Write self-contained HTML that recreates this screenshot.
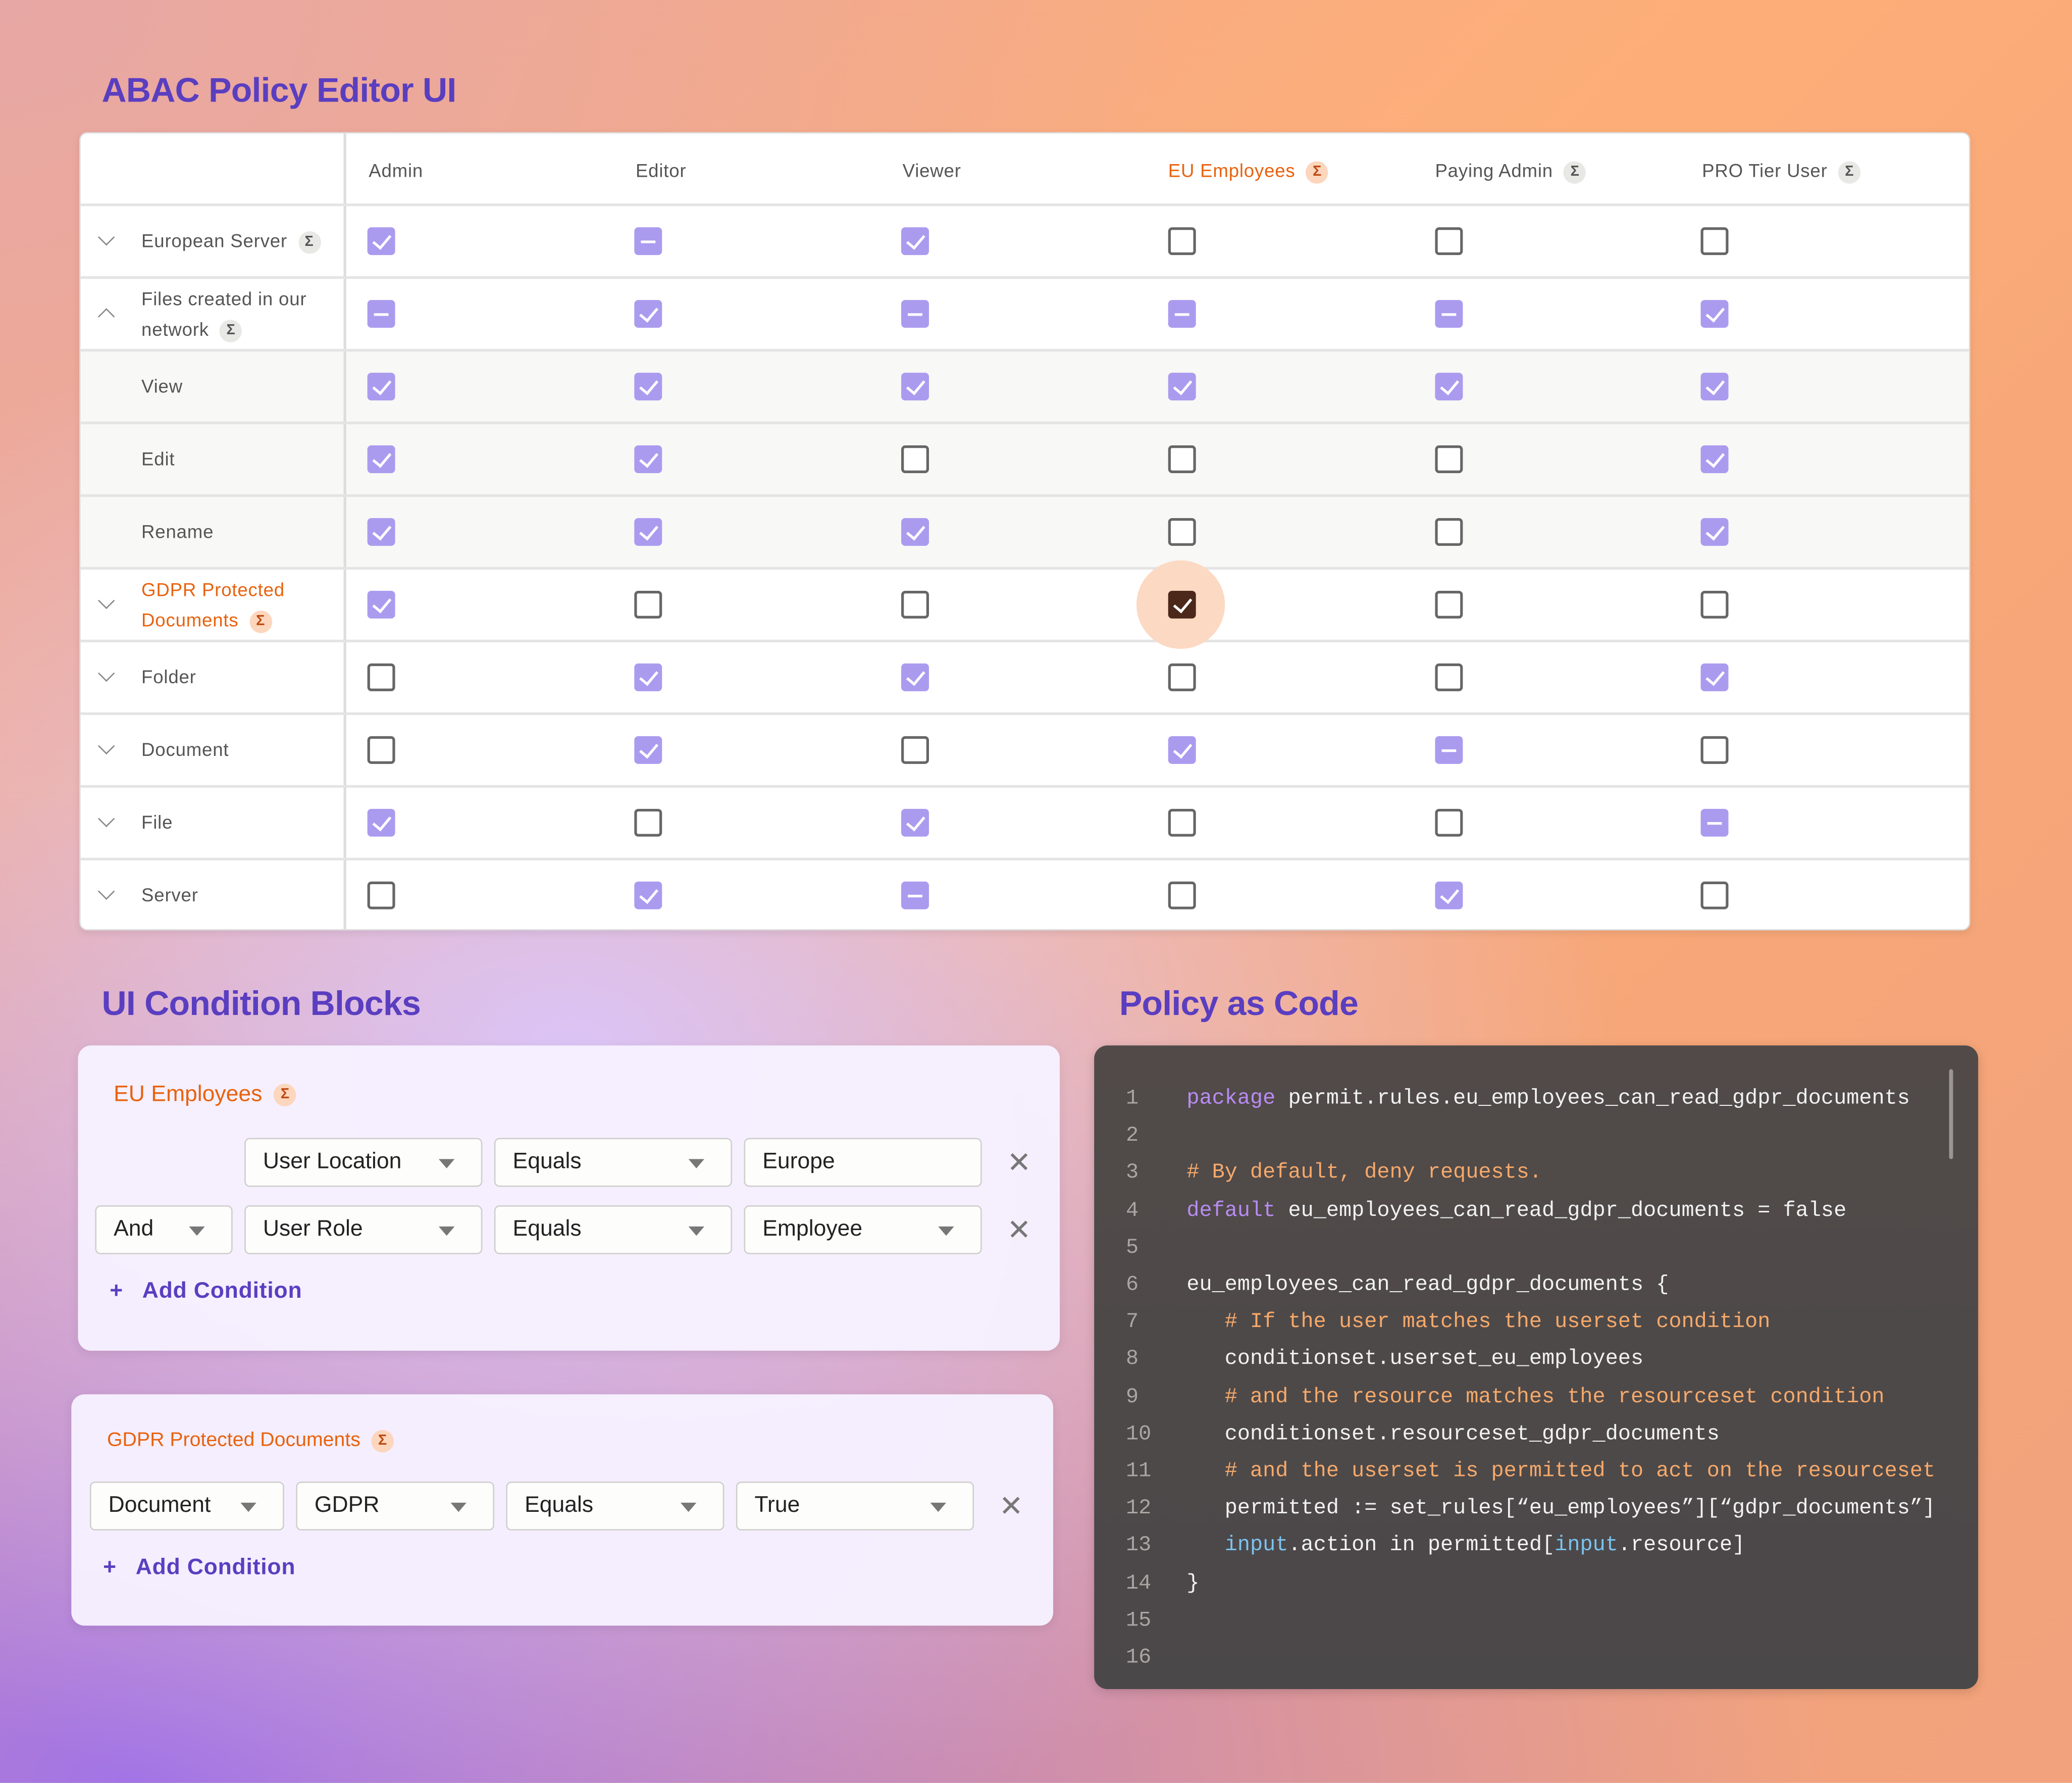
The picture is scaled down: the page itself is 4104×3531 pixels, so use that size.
<!DOCTYPE html>
<html><head><meta charset="utf-8"><style>
*{margin:0;padding:0;box-sizing:border-box}
html,body{width:4104px;height:3531px;overflow:hidden}
#w{position:absolute;left:0;top:0;width:1568px;height:1349px;transform:scale(2.61735);transform-origin:0 0;font-family:"Liberation Sans",sans-serif;
background:
radial-gradient(ellipse 800px 600px at 430px 800px,rgba(218,198,252,0.95),rgba(218,198,252,0) 100%),
radial-gradient(ellipse 1300px 750px at 100px 1349px,#a274e6,rgba(162,116,230,0) 100%),
radial-gradient(ellipse 900px 700px at 0px 0px,#e7a7a4,rgba(231,167,164,0) 100%),
linear-gradient(135deg,#f2a98e 0%,#fdae78 45%,#f6a678 70%,#f2a27c 100%);}
.a{position:absolute}
.t{position:absolute;color:#5a3ec0;font-weight:bold;font-size:26px;letter-spacing:-0.3px}
#tb{left:60px;top:100px;width:1431px;height:604px;background:#fff;border-radius:6px;border:1px solid #ddd;overflow:hidden;box-shadow:0 2px 6px rgba(0,0,0,.08)}
.hl{position:absolute;left:0;width:1431px;height:2px;background:#e4e4e4}
.hd{position:absolute;top:20px;font-size:14px;color:#555;letter-spacing:.3px}
.lb{position:absolute;left:46px;font-size:14px;color:#555;letter-spacing:.3px;line-height:23px}
.ch{position:absolute;left:15px;width:9px;height:9px;border-right:1.5px solid #888;border-bottom:1.5px solid #888}
.sg{display:inline-block;width:17px;height:17px;border-radius:50%;background:#e8e8e4;color:#555;font-size:11px;font-weight:bold;text-align:center;line-height:17px;vertical-align:middle;margin-left:4px}
.so{background:#fcd6bd;color:#c04a10}
.b{position:absolute;width:21px;height:21px;border-radius:3px}
.c,.m{background:#ab9bef}
.e{border:2px solid #666;background:#fff}
.c::after{content:"";position:absolute;left:7px;top:3px;width:6px;height:11px;border-right:2px solid #fff;border-bottom:2px solid #fff;transform:rotate(40deg)}
.m::after{content:"";position:absolute;left:5px;top:9.5px;width:11px;height:2px;background:#fff}
.d{background:#4b2819}
.d::after{content:"";position:absolute;left:7px;top:3px;width:6px;height:11px;border-right:2px solid #fff;border-bottom:2px solid #fff;transform:rotate(40deg)}
.pn{position:absolute;background:rgba(246,241,255,0.97);border-radius:10px;box-shadow:0 2px 8px rgba(0,0,0,.08)}
.sl{position:absolute;height:37px;background:#fdfdfc;border:1.5px solid #cfcfcb;border-radius:4px;font-size:17px;color:#222;line-height:34px;padding-left:13px}
.ar{position:absolute;right:20px;top:15px;width:0;height:0;border-left:6px solid transparent;border-right:6px solid transparent;border-top:7px solid #777}
.x{position:absolute;font-size:22px;color:#777;line-height:20px}
.ad{position:absolute;color:#5a3ec0;font-size:17px;letter-spacing:.3px;font-weight:bold}
#cd{left:828px;top:791px;width:669px;height:487px;border-radius:10px;background:linear-gradient(180deg,#514a49,#4b4849);box-shadow:0 2px 8px rgba(0,0,0,.15)}
.ln{position:absolute;left:24px;font-family:"Liberation Mono",monospace;font-size:16px;color:#a9a6a4}
.cl{position:absolute;left:70px;font-family:"Liberation Mono",monospace;font-size:16px;color:#f2f2f2;white-space:pre}
.k{color:#b98cf2}.cm{color:#f6a96a}.bl{color:#7cc3ef}
</style></head><body><div id="w">
<div class="t" style="left:77px;top:53px">ABAC Policy Editor UI</div>
<div class="t" style="left:77px;top:744px">UI Condition Blocks</div>
<div class="t" style="left:847px;top:744px">Policy as Code</div>

<div id="tb" class="a">
<div class="a" style="left:0;top:164px;width:1431px;height:165px;background:#f8f8f6"></div>
<div class="a" style="left:199px;top:0;width:1.5px;height:604px;background:#ddd"></div>
<div class="hl" style="top:53px"></div><div class="hl" style="top:108px"></div><div class="hl" style="top:163px"></div><div class="hl" style="top:218px"></div><div class="hl" style="top:273px"></div><div class="hl" style="top:328px"></div><div class="hl" style="top:383px"></div><div class="hl" style="top:438px"></div><div class="hl" style="top:493px"></div><div class="hl" style="top:548px"></div>
<div class="hd" style="left:218px">Admin</div>
<div class="hd" style="left:420px">Editor</div>
<div class="hd" style="left:622px">Viewer</div>
<div class="hd" style="left:823px;color:#e8620f">EU Employees <span class="sg so">Σ</span></div>
<div class="hd" style="left:1025px">Paying Admin <span class="sg">Σ</span></div>
<div class="hd" style="left:1227px">PRO Tier User <span class="sg">Σ</span></div>

<div class="ch" style="top:74px;transform:rotate(45deg)"></div>
<div class="lb" style="top:70px">European Server <span class="sg">Σ</span></div>
<div class="ch" style="top:134px;transform:rotate(225deg)"></div>
<div class="lb" style="top:114px">Files created in our<br>network <span class="sg">Σ</span></div>
<div class="lb" style="top:180px">View</div>
<div class="lb" style="top:235px">Edit</div>
<div class="lb" style="top:290px">Rename</div>
<div class="ch" style="top:349px;transform:rotate(45deg)"></div>
<div class="lb" style="top:334px;color:#e8620f">GDPR Protected<br>Documents <span class="sg so">Σ</span></div>
<div class="ch" style="top:404px;transform:rotate(45deg)"></div>
<div class="lb" style="top:400px">Folder</div>
<div class="ch" style="top:459px;transform:rotate(45deg)"></div>
<div class="lb" style="top:455px">Document</div>
<div class="ch" style="top:514px;transform:rotate(45deg)"></div>
<div class="lb" style="top:510px">File</div>
<div class="ch" style="top:569px;transform:rotate(45deg)"></div>
<div class="lb" style="top:565px">Server</div>

<div class="a" style="left:799px;top:323px;width:67px;height:67px;border-radius:50%;background:#fcd9c3"></div>

<div class="b c" style="left:217px;top:71px"></div><div class="b m" style="left:419px;top:71px"></div><div class="b c" style="left:621px;top:71px"></div><div class="b e" style="left:823px;top:71px"></div><div class="b e" style="left:1025px;top:71px"></div><div class="b e" style="left:1226px;top:71px"></div>
<div class="b m" style="left:217px;top:126px"></div><div class="b c" style="left:419px;top:126px"></div><div class="b m" style="left:621px;top:126px"></div><div class="b m" style="left:823px;top:126px"></div><div class="b m" style="left:1025px;top:126px"></div><div class="b c" style="left:1226px;top:126px"></div>
<div class="b c" style="left:217px;top:181px"></div><div class="b c" style="left:419px;top:181px"></div><div class="b c" style="left:621px;top:181px"></div><div class="b c" style="left:823px;top:181px"></div><div class="b c" style="left:1025px;top:181px"></div><div class="b c" style="left:1226px;top:181px"></div>
<div class="b c" style="left:217px;top:236px"></div><div class="b c" style="left:419px;top:236px"></div><div class="b e" style="left:621px;top:236px"></div><div class="b e" style="left:823px;top:236px"></div><div class="b e" style="left:1025px;top:236px"></div><div class="b c" style="left:1226px;top:236px"></div>
<div class="b c" style="left:217px;top:291px"></div><div class="b c" style="left:419px;top:291px"></div><div class="b c" style="left:621px;top:291px"></div><div class="b e" style="left:823px;top:291px"></div><div class="b e" style="left:1025px;top:291px"></div><div class="b c" style="left:1226px;top:291px"></div>
<div class="b c" style="left:217px;top:346px"></div><div class="b e" style="left:419px;top:346px"></div><div class="b e" style="left:621px;top:346px"></div><div class="b d" style="left:823px;top:346px"></div><div class="b e" style="left:1025px;top:346px"></div><div class="b e" style="left:1226px;top:346px"></div>
<div class="b e" style="left:217px;top:401px"></div><div class="b c" style="left:419px;top:401px"></div><div class="b c" style="left:621px;top:401px"></div><div class="b e" style="left:823px;top:401px"></div><div class="b e" style="left:1025px;top:401px"></div><div class="b c" style="left:1226px;top:401px"></div>
<div class="b e" style="left:217px;top:456px"></div><div class="b c" style="left:419px;top:456px"></div><div class="b e" style="left:621px;top:456px"></div><div class="b c" style="left:823px;top:456px"></div><div class="b m" style="left:1025px;top:456px"></div><div class="b e" style="left:1226px;top:456px"></div>
<div class="b c" style="left:217px;top:511px"></div><div class="b e" style="left:419px;top:511px"></div><div class="b c" style="left:621px;top:511px"></div><div class="b e" style="left:823px;top:511px"></div><div class="b e" style="left:1025px;top:511px"></div><div class="b m" style="left:1226px;top:511px"></div>
<div class="b e" style="left:217px;top:566px"></div><div class="b c" style="left:419px;top:566px"></div><div class="b m" style="left:621px;top:566px"></div><div class="b e" style="left:823px;top:566px"></div><div class="b c" style="left:1025px;top:566px"></div><div class="b e" style="left:1226px;top:566px"></div>
</div>

<div class="pn" style="left:59px;top:791px;width:743px;height:231px">
<div class="a" style="left:27px;top:27px;font-size:17px;color:#e8620f">EU Employees <span class="sg so">Σ</span></div>
<div class="sl" style="left:126px;top:70px;width:180px">User Location<div class="ar"></div></div>
<div class="sl" style="left:315px;top:70px;width:180px">Equals<div class="ar"></div></div>
<div class="sl" style="left:504px;top:70px;width:180px">Europe</div>
<div class="x" style="left:703px;top:79px">✕</div>
<div class="sl" style="left:13px;top:121px;width:104px">And<div class="ar"></div></div>
<div class="sl" style="left:126px;top:121px;width:180px">User Role<div class="ar"></div></div>
<div class="sl" style="left:315px;top:121px;width:180px">Equals<div class="ar"></div></div>
<div class="sl" style="left:504px;top:121px;width:180px">Employee<div class="ar"></div></div>
<div class="x" style="left:703px;top:130px">✕</div>
<div class="ad" style="left:24px;top:176px">+&nbsp;&nbsp; Add Condition</div>
</div>

<div class="pn" style="left:54px;top:1055px;width:743px;height:175px">
<div class="a" style="left:27px;top:26px;font-size:15px;color:#e8620f">GDPR Protected Documents <span class="sg so">Σ</span></div>
<div class="sl" style="left:14px;top:66px;width:147px">Document<div class="ar"></div></div>
<div class="sl" style="left:170px;top:66px;width:150px">GDPR<div class="ar"></div></div>
<div class="sl" style="left:329px;top:66px;width:165px">Equals<div class="ar"></div></div>
<div class="sl" style="left:503px;top:66px;width:180px">True<div class="ar"></div></div>
<div class="x" style="left:702px;top:75px">✕</div>
<div class="ad" style="left:24px;top:121px">+&nbsp;&nbsp; Add Condition</div>
</div>

<div id="cd" class="a">
<div class="a" style="left:647px;top:18px;width:3px;height:68px;border-radius:2px;background:#9a9696"></div>
<div class="ln" style="top:31px">1</div><div class="cl" style="top:31px"><span class="k">package</span> permit.rules.eu_employees_can_read_gdpr_documents</div>
<div class="ln" style="top:59px">2</div>
<div class="ln" style="top:87px">3</div><div class="cl cm" style="top:87px"># By default, deny requests.</div>
<div class="ln" style="top:116px">4</div><div class="cl" style="top:116px"><span class="k">default</span> eu_employees_can_read_gdpr_documents = false</div>
<div class="ln" style="top:144px">5</div>
<div class="ln" style="top:172px">6</div><div class="cl" style="top:172px">eu_employees_can_read_gdpr_documents {</div>
<div class="ln" style="top:200px">7</div><div class="cl cm" style="top:200px">   # If the user matches the userset condition</div>
<div class="ln" style="top:228px">8</div><div class="cl" style="top:228px">   conditionset.userset_eu_employees</div>
<div class="ln" style="top:257px">9</div><div class="cl cm" style="top:257px">   # and the resource matches the resourceset condition</div>
<div class="ln" style="top:285px">10</div><div class="cl" style="top:285px">   conditionset.resourceset_gdpr_documents</div>
<div class="ln" style="top:313px">11</div><div class="cl cm" style="top:313px">   # and the userset is permitted to act on the resourceset</div>
<div class="ln" style="top:341px">12</div><div class="cl" style="top:341px">   permitted := set_rules[“eu_employees”][“gdpr_documents”]</div>
<div class="ln" style="top:369px">13</div><div class="cl" style="top:369px">   <span class="bl">input</span>.action in permitted[<span class="bl">input</span>.resource]</div>
<div class="ln" style="top:398px">14</div><div class="cl" style="top:398px">}</div>
<div class="ln" style="top:426px">15</div>
<div class="ln" style="top:454px">16</div>
</div>
</div></body></html>
